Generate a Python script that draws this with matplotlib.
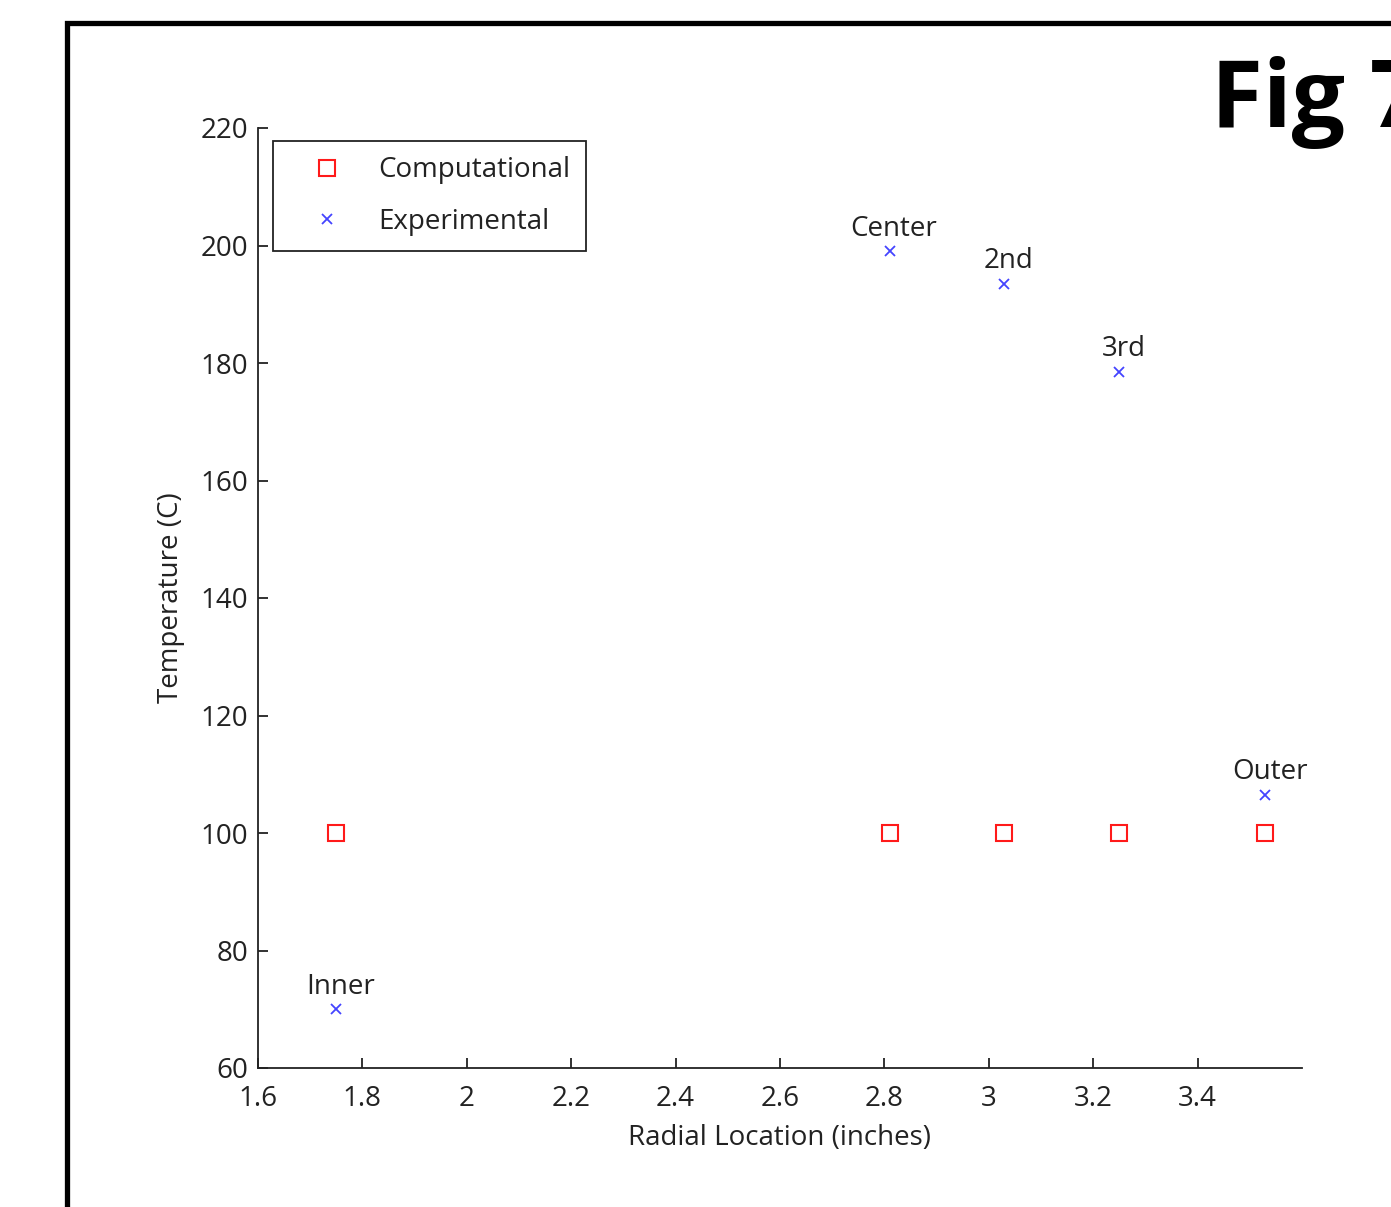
import numpy as np
import matplotlib.pyplot as plt
from matplotlib.patches import Rectangle

plt.rcParams['font.family'] = ['Open Sans', 'DejaVu Sans']

# radial positions of the thermocouples (inches)
radial = [1.75, 2.81, 3.03, 3.25, 3.53]
computational = [100, 100, 100, 100, 100]
experimental = [70, 199, 193.5, 178.5, 106.5]
names = ['Inner', 'Center', '2nd', '3rd', 'Outer']

W, H = 1391, 1207
FS = 20
TXT = '#222222'
fig = plt.figure(figsize=(W / 100, H / 100), dpi=100)
ax = fig.add_axes([258 / W, 1 - 1068 / H, (1302 - 258) / W, (1068 - 128) / H])

ax.plot(radial, computational, linestyle='none', marker='s', markersize=11.5,
        markerfacecolor='none', markeredgecolor='#ff1a1a', markeredgewidth=1.5,
        label='Computational')
ax.plot(radial, experimental, linestyle='none', marker='x', markersize=7,
        color='#4444ff', markeredgewidth=1.3, label='Experimental')

for xx, yy, nm in zip(radial, experimental, names):
    ax.annotate(nm, (xx, yy), xytext=(3, 6), textcoords='offset points',
                ha='center', va='bottom', fontsize=FS, color=TXT)

ax.set_xlim(1.6, 3.6)
ax.set_ylim(60, 220)
ax.set_xticks(np.arange(1.6, 3.41, 0.2))
ax.set_xticklabels(['1.6', '1.8', '2', '2.2', '2.4', '2.6', '2.8', '3', '3.2', '3.4'])
ax.set_yticks(np.arange(60, 221, 20))

for s in ['top', 'right']:
    ax.spines[s].set_visible(False)
for s in ['left', 'bottom']:
    ax.spines[s].set_linewidth(1.3)
    ax.spines[s].set_color(TXT)
ax.tick_params(direction='in', length=7, width=1.3, labelsize=FS,
               colors=TXT, pad=7)
ax.tick_params(axis='x', pad=12)

ax.set_xlabel('Radial Location (inches)', fontsize=FS, color=TXT, labelpad=8)
ax.set_ylabel('Temperature (C)', fontsize=FS, color=TXT, labelpad=11)

leg = ax.legend(loc='upper left', bbox_to_anchor=(273 / W, 1 - 141 / H),
                bbox_transform=fig.transFigure, fontsize=FS, fancybox=False,
                edgecolor=TXT, framealpha=1, borderpad=0.55,
                handletextpad=0.45, handlelength=2.8, labelspacing=0.85,
                borderaxespad=0)
leg.get_frame().set_linewidth(1.3)
for t in leg.get_texts():
    t.set_color(TXT)

# outer frame of the figure panel (runs off the right and bottom edges)
fig.patches.append(Rectangle((66.5 / W, -0.05), 1.2, 1 - 22.5 / H + 0.05,
                             transform=fig.transFigure, fill=False,
                             edgecolor='black', linewidth=3.8, clip_on=False))
fig.text(1211 / W, 1 - 127 / H, 'Fig 7', fontsize=68, fontweight='bold',
         ha='left', va='baseline', color='black')

fig.savefig('out.png', dpi=100)
